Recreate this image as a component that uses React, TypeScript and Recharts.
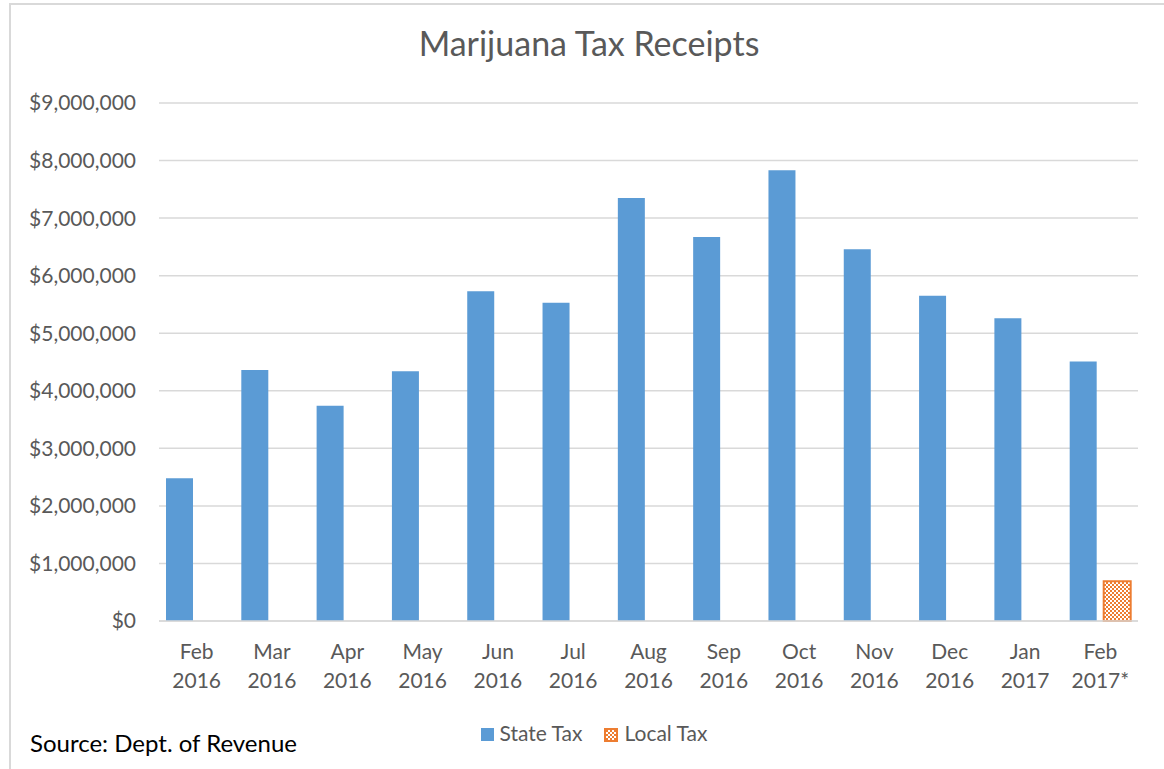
import React from "react";
import {
  BarChart,
  Bar,
  CartesianGrid,
  XAxis,
  YAxis,
  Legend,
} from "recharts";

const months = [
  "Feb\n2016",
  "Mar\n2016",
  "Apr\n2016",
  "May\n2016",
  "Jun\n2016",
  "Jul\n2016",
  "Aug\n2016",
  "Sep\n2016",
  "Oct\n2016",
  "Nov\n2016",
  "Dec\n2016",
  "Jan\n2017",
  "Feb\n2017*",
];

const stateTax = [
  2480000, 4360000, 3740000, 4340000, 5730000, 5530000, 7350000, 6670000,
  7830000, 6460000, 5650000, 5260000, 4510000,
];

const localTax = [null, null, null, null, null, null, null, null, null, null, null, null, 690000];

const yTicks = [0, 1000000, 2000000, 3000000, 4000000, 5000000, 6000000, 7000000, 8000000, 9000000];

const data = months.map((m, i) => ({
  month: m,
  state: stateTax[i],
  local: localTax[i],
}));

const FONT = "Lato, 'Open Sans', sans-serif";
const GREY = "#595959";

const money = (v: number) => "$" + v.toLocaleString("en-US");

function MonthTick(props: any) {
  const { x, payload } = props;
  const lines = String(payload.value).split("\n");
  return (
    <g transform={`translate(${x},621)`}>
      {lines.map((l, i) => (
        <text
          key={i}
          x={0}
          y={38 + i * 29}
          textAnchor="middle"
          fill={GREY}
          fontSize={21}
          fontFamily={FONT}
        >
          {l}
        </text>
      ))}
    </g>
  );
}

function LegendBox() {
  return (
    <div
      style={{
        display: "flex",
        justifyContent: "center",
        gap: 22,
        fontFamily: FONT,
        fontSize: 21,
        lineHeight: 1.2,
        color: GREY,
      }}
    >
      <span style={{ display: "flex", alignItems: "center" }}>
        <span
          style={{
            width: 13,
            height: 13,
            background: "#5B9BD5",
            marginRight: 6,
            position: "relative",
            top: 2,
          }}
        />
        State Tax
      </span>
      <span style={{ display: "flex", alignItems: "center" }}>
        <svg width={14} height={14} style={{ marginRight: 6, position: "relative", top: 2 }}>
          <defs>
            <pattern id="localPatLeg" width={4} height={4} patternUnits="userSpaceOnUse">
              <rect width={4} height={4} fill="#fff" />
              <rect width={2} height={2} fill="#ED7D31" />
              <rect x={2} y={2} width={2} height={2} fill="#ED7D31" />
            </pattern>
          </defs>
          <rect x={1} y={1} width={12} height={12} fill="url(#localPatLeg)" stroke="#ED7D31" strokeWidth={2} />
        </svg>
        Local Tax
      </span>
    </div>
  );
}

export default function App() {
  return (
    <div
      style={{
        position: "absolute",
        left: 0,
        top: 0,
        width: 1164,
        height: 769,
        background: "#fff",
        overflow: "hidden",
      }}
    >
      <div
        style={{
          position: "absolute",
          left: 9,
          top: 3,
          width: 1200,
          height: 800,
          border: "2px solid #d9d9d9",
        }}
      />
      <div
        style={{
          position: "absolute",
          left: 0,
          width: 1178,
          top: 23,
          textAlign: "center",
          fontFamily: FONT,
          fontSize: 34,
          lineHeight: 1.2,
          color: GREY,
        }}
      >
        Marijuana Tax Receipts
      </div>
      <div
        style={{
          position: "absolute",
          left: 30,
          top: 729,
          fontFamily: FONT,
          fontSize: 24,
          lineHeight: 1.2,
          color: "#000",
        }}
      >
        Source: Dept. of Revenue
      </div>
      <div style={{ position: "absolute", left: 0, top: 0 }}>
        <BarChart
          width={1164}
          height={769}
          data={data}
          margin={{ top: 103, right: 26, bottom: 0, left: 19 }}
          barSize={27}
          barGap={7}
        >
          <defs>
            <pattern id="localPat" width={4} height={4} patternUnits="userSpaceOnUse">
              <rect width={4} height={4} fill="#fff" />
              <rect width={2} height={2} fill="#ED7D31" />
              <rect x={2} y={2} width={2} height={2} fill="#ED7D31" />
            </pattern>
          </defs>
          <CartesianGrid vertical={false} stroke="#d9d9d9" strokeWidth={1.5} />
          <XAxis
            dataKey="month"
            height={148}
            interval={0}
            tick={<MonthTick />}
            tickLine={false}
            axisLine={{ stroke: "#d9d9d9", strokeWidth: 1.5 }}
          />
          <YAxis
            width={140}
            domain={[0, 9000000]}
            ticks={yTicks}
            tickFormatter={money}
            axisLine={false}
            tickLine={false}
            tick={{ fill: GREY, fontSize: 21, fontFamily: FONT }}
            tickMargin={17}
          />
          <Legend
            layout="horizontal"
            verticalAlign="middle"
            align="center"
            content={<LegendBox />}
            wrapperStyle={{ top: 720, left: 0, width: 1188 }}
          />
          <Bar dataKey="state" name="State Tax" fill="#5B9BD5" isAnimationActive={false} />
          <Bar
            dataKey="local"
            name="Local Tax"
            fill="url(#localPat)"
            stroke="#ED7D31"
            strokeWidth={2}
            isAnimationActive={false}
          />
        </BarChart>
      </div>
    </div>
  );
}
